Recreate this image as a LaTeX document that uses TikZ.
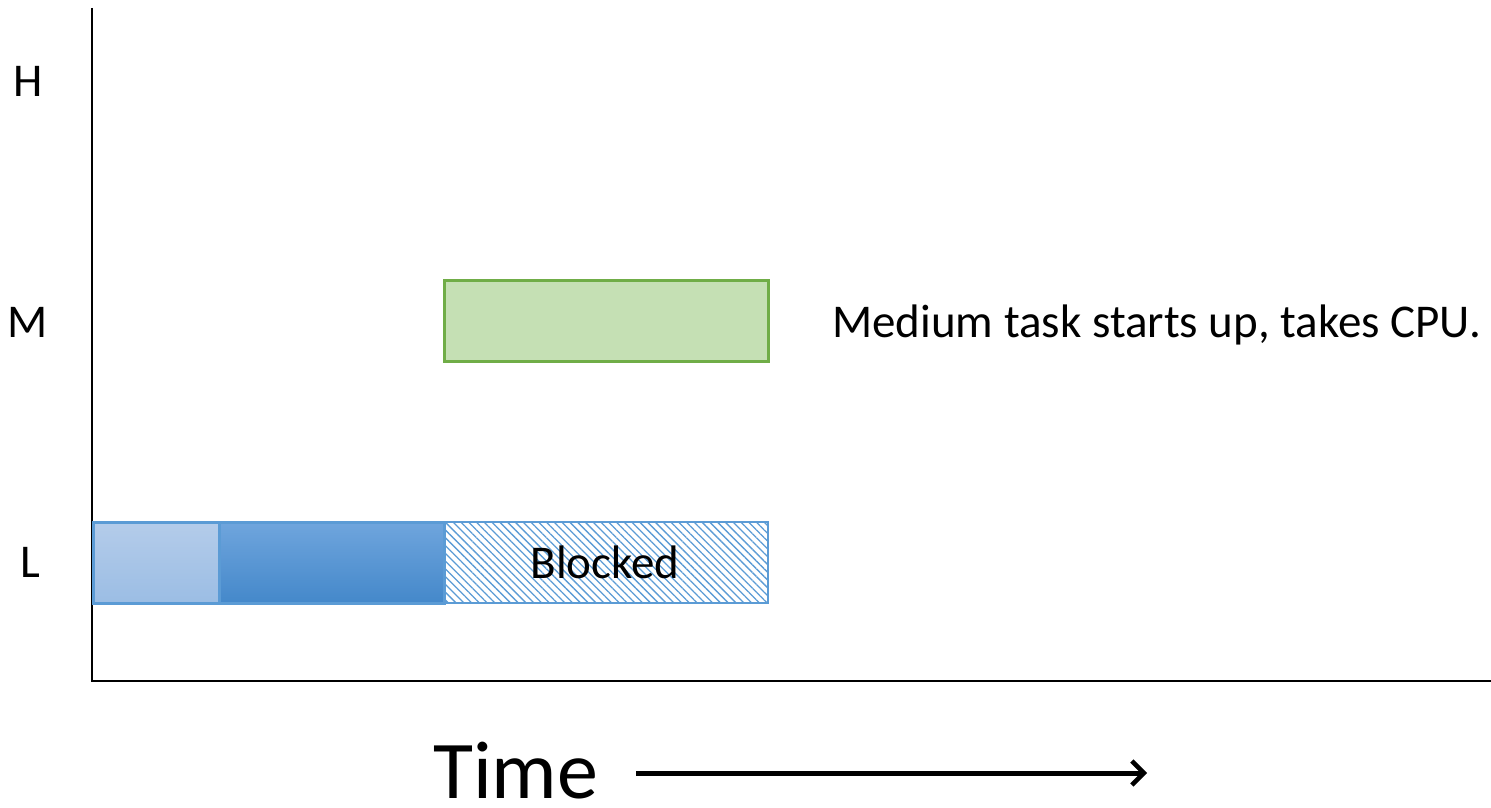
\documentclass[tikz,border=0pt]{standalone}
\usepackage{fontspec}
\setmainfont{Carlito}
\usetikzlibrary{patterns.meta,arrows.meta}
\definecolor{gfill}{HTML}{C5E0B4}
\definecolor{gline}{HTML}{70AD47}
\definecolor{bline}{HTML}{5B9BD5}
\definecolor{lighttop}{HTML}{B4CCEA}
\definecolor{lightbot}{HTML}{9BBDE4}
\definecolor{darktop}{HTML}{6FA5DD}
\definecolor{darkbot}{HTML}{4488CA}
\tikzset{
  lbl/.style={font=\fontsize{47}{52}\selectfont, inner sep=0pt},
  bar/.style={draw, line width=2.5pt, minimum height=81pt, inner sep=0pt, anchor=north west},
}
\begin{document}
\begin{tikzpicture}[x=1pt,y=-1pt]
\useasboundingbox (0,0) rectangle (1491,808);
% axes
\coordinate (top) at (92,8);
\coordinate (origin) at (92,681);
\coordinate (right) at (1491,681);
\draw[line width=2.8pt] (top) -- (origin) -- (right);
% labels
\node[lbl, anchor=base] (H) at (28,96) {H};
\node[lbl, anchor=base] (M) at (28,337) {M};
\node[lbl, anchor=base] (L) at (30,577) {L};
% medium bar
\node[bar, draw=gline, fill=gfill, minimum width=324pt] (med) at (443,279) {};
\node[lbl, anchor=base west] (medtxt) at (832,337) {Medium task starts up, takes CPU.};
% low bars
\node[bar, draw=bline, top color=lighttop, bottom color=lightbot, minimum width=126pt] (l1) at (92,521) {};
\node[bar, draw=bline, top color=darktop, bottom color=darkbot, minimum width=225pt] (l2) at (218,521) {};
\node[bar, draw=bline, line width=2pt, pattern={Lines[angle=-45,distance=5.5pt,line width=1.3pt]}, pattern color=bline, minimum width=324pt] (l3) at (443,521) {};
\node[lbl, anchor=base] (blk) at (605,578) {Blocked};
% time
\node[font=\fontsize{82}{90}\selectfont, inner sep=0pt, anchor=base west] (time) at (433,798) {Time};
\coordinate (tstart) at (636,773);
\coordinate (tend) at (1147,773);
\draw[line width=5pt, -{Straight Barb[length=12pt,width=24pt,line width=4.5pt]}] (tstart) -- (tend);
\end{tikzpicture}
\end{document}
